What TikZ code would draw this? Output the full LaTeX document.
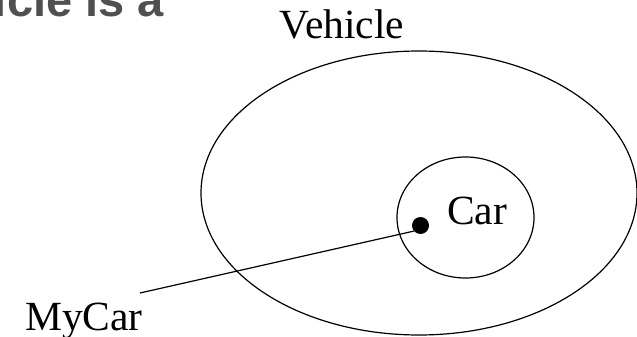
\documentclass[tikz,border=0pt]{standalone}
\usepackage{fontspec}
\setmainfont{Liberation Serif}
\newfontfamily\titlefont{Liberation Sans}
\usepackage{xcolor}
\usetikzlibrary{shapes.geometric}
\definecolor{TitleGray}{RGB}{80,80,80}

\tikzset{
  setline/.style={draw=black, line width=1.2pt},
  setbox/.style={setline, ellipse, inner sep=0pt},
  setlabel/.style={inner sep=0pt, font=\fontsize{41.5}{48}\selectfont}
}

\begin{document}
\begin{tikzpicture}[x=1pt, y=-1pt]
        \useasboundingbox (0,0) rectangle (637,337);
        \clip (0,0) rectangle (637,337);
        % cut-off slide title
        \node[anchor=base east, inner sep=0pt, text=TitleGray,
          font=\titlefont\bfseries\fontsize{47}{54}\selectfont] (title) at (164,17) {Vehicle is a};
        % the two sets
        \node[setbox, minimum width=436pt, minimum height=284pt] (vehicle) at (419,193) {};
        \node[setbox, minimum width=137pt, minimum height=121pt] (car) at (465.5,217.5) {};
        \node[setlabel, anchor=base] (vehiclelabel) at (342,39) {Vehicle};
        \node[setlabel, anchor=base west] (carlabel) at (447,224) {Car};
        % the instance
        \node[circle, fill=black, inner sep=0pt, minimum size=17pt] (mycar) at (420.5,225.5) {};
        \node[setlabel, anchor=base west] (mycarlabel) at (25,330) {MyCar};
        \coordinate (mycarend) at (140,293);
        \draw[setline] (mycar.220) -- (mycarend);
      \end{tikzpicture}
\end{document}
